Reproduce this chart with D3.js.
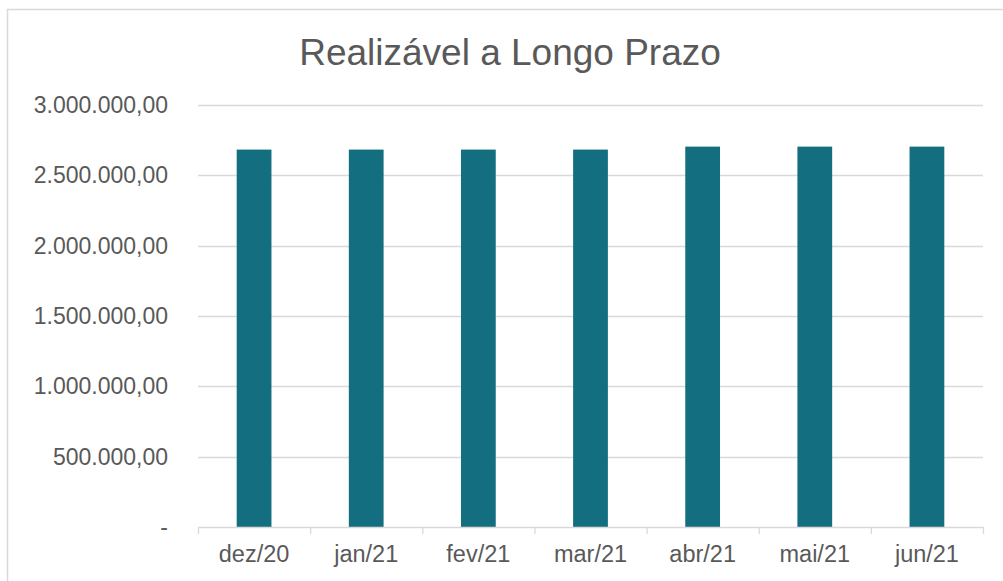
<!DOCTYPE html>
<html>
<head>
<meta charset="utf-8">
<script src="https://cdn.jsdelivr.net/npm/d3@7"></script>
<style>
  body { margin: 0; background: #fff; }
  text { font-family: "Liberation Sans", Arial, sans-serif; fill: #595959; }
</style>
</head>
<body>
<div id="chart"></div>
<script>
// dados
var months = ['dez/20', 'jan/21', 'fev/21', 'mar/21', 'abr/21', 'mai/21', 'jun/21'];
var values = [2683000, 2683000, 2683000, 2683000, 2704000, 2704000, 2704000];
var yTicks = [0, 500000, 1000000, 1500000, 2000000, 2500000, 3000000];

var W = 1003, H = 581;
var margin = { left: 198, right: 20, top: 105, bottom: 54 };  // plot: x 198..983, y 105..527

var svg = d3.select('#chart').append('svg')
    .attr('width', W)
    .attr('height', H);

// borda do gráfico
svg.append('rect')
   .attr('x', 7.5).attr('y', 9.5)
   .attr('width', W + 10).attr('height', H + 10)
   .attr('fill', 'none')
   .attr('stroke', '#d9d9d9')
   .attr('stroke-width', 1.5);

var x = d3.scaleBand()
    .domain(months)
    .range([margin.left, W - margin.right])
    .paddingInner(0.69)
    .paddingOuter(0.345);

var y = d3.scaleLinear()
    .domain([0, 3000000])
    .range([H - margin.bottom, margin.top]);

function fmt(v){
	if(v === 0) return '-';
	var s = d3.format(',.2f')(v);
	return s.replace(/,/g, '#').replace('.', ',').replace(/#/g, '.');
}

// linhas de grade
svg.append('g')
   .selectAll('line')
   .data(yTicks.slice(1))
   .enter().append('line')
   .attr('x1', margin.left)
   .attr('x2', W - margin.right)
   .attr('y1', function(d){ return Math.round(y(d)) + 0.5; })
   .attr('y2', function(d){ return Math.round(y(d)) + 0.5; })
   .attr('stroke', '#d9d9d9')
   .attr('stroke-width', 1.3);

// eixo Y (só rótulos)
svg.append('g')
   .selectAll('text')
   .data(yTicks)
   .enter().append('text')
   .attr('x', 168)
   .attr('y', function(d){ return y(d) + 8; })
   .attr('text-anchor', 'end')
   .attr('font-size', '23px')
   .text(fmt);

// barras
svg.append('g')
   .selectAll('rect')
   .data(values)
   .enter().append('rect')
   .attr('x', function(d, i){ return x(months[i]); })
   .attr('y', function(d){ return y(d); })
   .attr('width', x.bandwidth())
   .attr('height', function(d){ return y(0) - y(d); })
   .attr('fill', '#136f7f');

// eixo X
var step = x.step();
var gx = svg.append('g');
gx.append('line')
  .attr('x1', margin.left).attr('x2', W - margin.right)
  .attr('y1', y(0) + 0.5).attr('y2', y(0) + 0.5)
  .attr('stroke', '#d9d9d9').attr('stroke-width', 1.3);
gx.selectAll('line.tick')
  .data(d3.range(months.length + 1))
  .enter().append('line')
  .attr('class', 'tick')
  .attr('x1', function(i){ return margin.left + i * step + 0.5; })
  .attr('x2', function(i){ return margin.left + i * step + 0.5; })
  .attr('y1', y(0)).attr('y2', y(0) + 7)
  .attr('stroke', '#d9d9d9').attr('stroke-width', 1.3);
gx.selectAll('text')
  .data(months)
  .enter().append('text')
  .attr('x', function(d){ return x(d) + x.bandwidth() / 2; })
  .attr('y', y(0) + 35)
  .attr('text-anchor', 'middle')
  .attr('font-size', '23.5px')
  .text(function(d){ return d; });

// título
svg.append('text')
   .attr('x', 510)
   .attr('y', 65)
   .attr('text-anchor', 'middle')
   .attr('font-size', '37px')
   .text('Realizável a Longo Prazo');
</script>
</body>
</html>
